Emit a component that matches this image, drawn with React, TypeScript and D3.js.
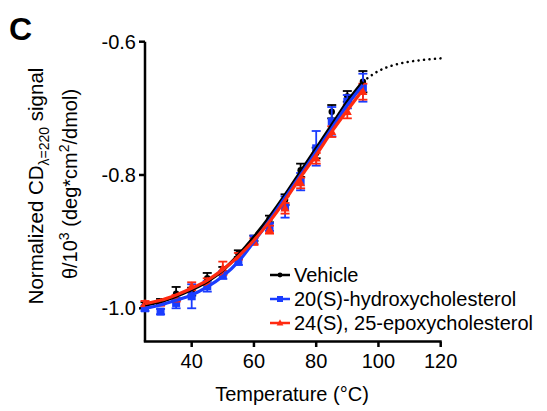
import React from "react";
import * as d3 from "d3";

const temps = [25, 30, 35, 40, 45, 50, 55, 60, 65, 70, 75, 80, 85, 90, 95];

const vehicleMean = [-0.995, -0.99, -0.978, -0.975, -0.955, -0.943, -0.918, -0.895, -0.866, -0.837, -0.793, -0.767, -0.705, -0.682, -0.66];
const vehicleErr = [0.004, 0.004, 0.01, 0.006, 0.008, 0.005, 0.005, 0.004, 0.005, 0.008, 0.01, 0.008, 0.01, 0.008, 0.016];
const hydroxyMean = [-1.0, -1.005, -0.992, -0.982, -0.967, -0.95, -0.93, -0.897, -0.878, -0.848, -0.81, -0.76, -0.72, -0.69, -0.669];
const hydroxyErr = [0.004, 0.004, 0.008, 0.018, 0.008, 0.006, 0.005, 0.006, 0.006, 0.016, 0.013, 0.026, 0.022, 0.01, 0.021];
const epoxyMean = [-0.993, -0.992, -0.985, -0.967, -0.96, -0.94, -0.922, -0.9, -0.882, -0.85, -0.812, -0.775, -0.735, -0.705, -0.675];
const epoxyErr = [0.004, 0.004, 0.005, 0.006, 0.005, 0.01, 0.005, 0.005, 0.006, 0.008, 0.008, 0.008, 0.008, 0.01, 0.012];

// fitted curves
const fitTemps = [25, 30, 35, 40, 45, 50, 55, 60, 65, 70, 75, 80, 85, 90, 95];
const vehicleFit = [-0.995, -0.99, -0.982, -0.972, -0.96, -0.943, -0.92, -0.893, -0.863, -0.83, -0.795, -0.76, -0.725, -0.69, -0.66];
const hydroxyFit = [-1.0, -0.995, -0.988, -0.98, -0.968, -0.952, -0.93, -0.9, -0.868, -0.834, -0.8, -0.765, -0.73, -0.695, -0.665];
const epoxyFit = [-0.993, -0.988, -0.98, -0.97, -0.958, -0.942, -0.922, -0.898, -0.87, -0.838, -0.803, -0.77, -0.735, -0.703, -0.672];
const extrapTemps = [95, 100, 105, 110, 115, 120];
const vehicleExtrap = [-0.66, -0.644, -0.635, -0.63, -0.627, -0.625];

const xTicks = [40, 60, 80, 100, 120];
const yTicks = [-0.6, -0.8, -1.0];
const seriesNames = ["Vehicle", "20(S)-hydroxycholesterol", "24(S), 25-epoxycholesterol"];
const seriesColors = ["#000000", "#1a3cff", "#ff2a10"];

const FONT = "'Liberation Sans', Arial, Helvetica, sans-serif";

export default function App() {
  const x = d3.scaleLinear().domain([25, 120]).range([145, 440.7]);
  const y = d3.scaleLinear().domain([-1.05, -0.6]).range([341.6, 41.7]);

  const line = d3
    .line<[number, number]>()
    .x((d) => x(d[0]))
    .y((d) => y(d[1]))
    .curve(d3.curveMonotoneX);

  const fits = [vehicleFit, hydroxyFit, epoxyFit];
  const means = [vehicleMean, hydroxyMean, epoxyMean];
  const errs = [vehicleErr, hydroxyErr, epoxyErr];

  const marker = (i: number, cx: number, cy: number, key: string, scale = 1) => {
    const c = seriesColors[i];
    if (i === 0) return <circle key={key} cx={cx} cy={cy} r={3.2 * scale} fill={c} />;
    if (i === 1) {
      const s = 8 * scale;
      return <rect key={key} x={cx - s / 2} y={cy - s / 2} width={s} height={s} fill={c} />;
    }
    const s = 9 * scale;
    const h = s * 0.9;
    return (
      <path
        key={key}
        d={`M${cx},${cy - h * 0.6} L${cx + s / 2},${cy + h * 0.4} L${cx - s / 2},${cy + h * 0.4} Z`}
        fill={c}
      />
    );
  };

  const order = [0, 1, 2];

  return (
    <svg
      width={547}
      height={411}
      style={{ position: "absolute", left: 0, top: 0, background: "#fff" }}
      fontFamily={FONT}
    >
      <rect width={547} height={411} fill="#fff" />
      {/* panel letter */}
      <text x={9} y={40} fontSize={32} fontWeight="bold" fill="#000">
        C
      </text>

      {/* axes */}
      <line x1={145} x2={145} y1={y(-0.6)} y2={y(-1.05)} stroke="#000" strokeWidth={2.5} />
      <line x1={143.8} x2={x(120) + 1} y1={341.6} y2={341.6} stroke="#000" strokeWidth={2.5} />
      {yTicks.map((t) => (
        <g key={"yt" + t}>
          <line x1={139} x2={145} y1={y(t)} y2={y(t)} stroke="#000" strokeWidth={2.5} />
          <text x={136} y={y(t) + 7} fontSize={20} textAnchor="end" fill="#000">
            {t.toFixed(1)}
          </text>
        </g>
      ))}
      {xTicks.map((t) => (
        <g key={"xt" + t}>
          <line x1={x(t)} x2={x(t)} y1={341.6} y2={347} stroke="#000" strokeWidth={2.5} />
          <text x={x(t)} y={368} fontSize={20} textAnchor="middle" fill="#000">
            {t}
          </text>
        </g>
      ))}

      {/* axis titles */}
      <text x={292} y={401} fontSize={20} textAnchor="middle" fill="#000">
        Temperature (°C)
      </text>
      <text transform="translate(43,186) rotate(-90)" fontSize={20.5} textAnchor="middle" fill="#000">
        Normalized CD
        <tspan fontSize={14} dy={6}>λ=220</tspan>
        <tspan dy={-6}> signal</tspan>
      </text>
      <text transform="translate(77,184) rotate(-90)" fontSize={20} textAnchor="middle" fill="#000">
        θ/10
        <tspan fontSize={14} dy={-8}>3</tspan>
        <tspan dy={8}> (deg*cm</tspan>
        <tspan fontSize={14} dy={-8}>2</tspan>
        <tspan dy={8}>/dmol)</tspan>
      </text>

      {/* extrapolated dotted fit */}
      <path
        d={line(extrapTemps.map((t, i) => [t, vehicleExtrap[i]]) as [number, number][]) || ""}
        fill="none"
        stroke="#000"
        strokeWidth={2.5}
        strokeDasharray="0.1 5.4"
        strokeLinecap="round"
      />

      {/* error bars, markers, fit lines */}
      {order.map((i) => (
        <g key={"s" + i}>
          {temps.map((t, j) => {
            const cx = x(t);
            const top = y(means[i][j] + errs[i][j]);
            const bot = y(means[i][j] - errs[i][j]);
            return (
              <g key={j} stroke={seriesColors[i]} strokeWidth={1.8}>
                <line x1={cx} x2={cx} y1={top} y2={bot} />
                <line x1={cx - 4.5} x2={cx + 4.5} y1={top} y2={top} />
                <line x1={cx - 4.5} x2={cx + 4.5} y1={bot} y2={bot} />
              </g>
            );
          })}
          {temps.map((t, j) => marker(i, x(t), y(means[i][j]), "m" + j))}
        </g>
      ))}
      {order.map((i) => (
        <path
          key={"f" + i}
          d={line(fitTemps.map((t, k) => [t, fits[i][k]]) as [number, number][]) || ""}
          fill="none"
          stroke={seriesColors[i]}
          strokeWidth={3.2}
        />
      ))}

      {/* legend */}
      {seriesNames.map((name, i) => {
        const ly = 275 + i * 24;
        return (
          <g key={"lg" + i}>
            <line x1={270} x2={290} y1={ly} y2={ly} stroke={seriesColors[i]} strokeWidth={2.5} />
            {marker(i, 280, ly, "lm" + i, 0.75)}
            <text x={294} y={ly + 7} fontSize={20} fill="#000">
              {name}
            </text>
          </g>
        );
      })}
    </svg>
  );
}
